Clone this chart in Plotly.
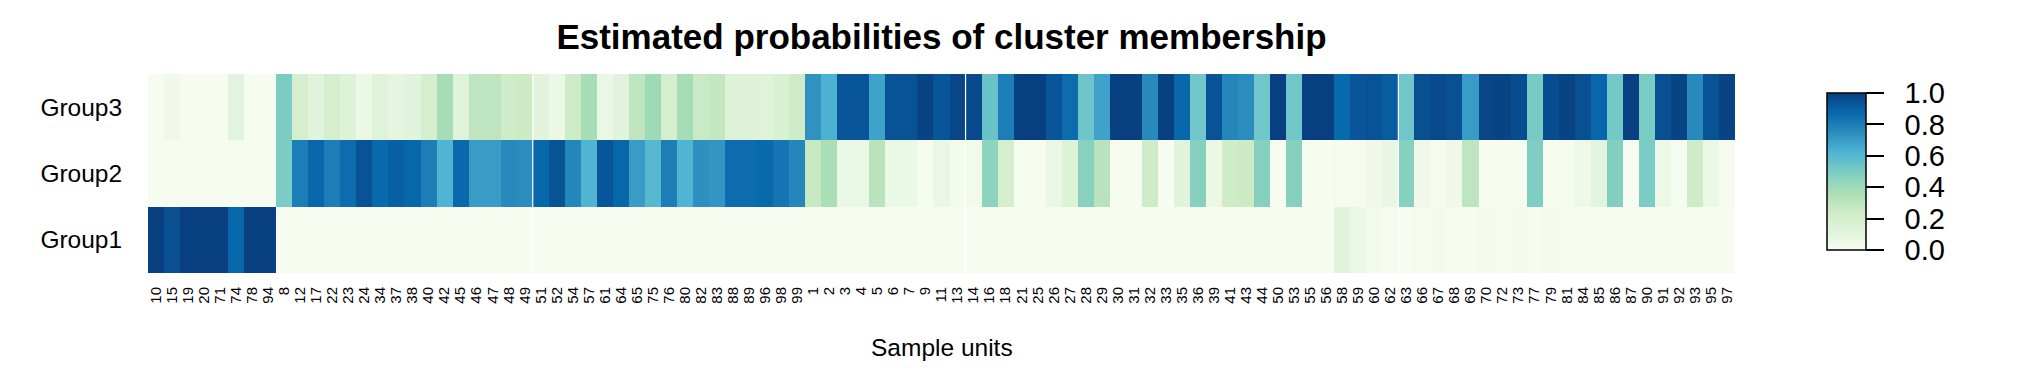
import plotly.graph_objects as go

# ---- data ----
samples = [
    "10", "15", "19", "20", "71", "74", "78", "94",
    "8", "12", "17", "22", "23", "24", "34", "37", "38", "40", "42", "45", "46", "47", "48", "49",
    "51", "52", "54", "57", "61", "64", "65", "75", "76", "80", "82", "83", "88", "89", "96", "98", "99",
    "1", "2", "3", "4", "5", "6", "7", "9", "11", "13", "14", "16", "18", "21", "25", "26", "27", "28",
    "29", "30", "31", "32", "33", "35", "36", "39", "41", "43", "44", "50", "53", "55", "56", "58", "59",
    "60", "62", "63", "66", "67", "68", "69", "70", "72", "73", "77", "79", "81", "84", "85", "86", "87",
    "90", "91", "92", "93", "95", "97",
]

group1 = [
    1.00, 0.95, 1.00, 1.00, 1.00, 0.88, 1.00, 1.00,
    0.00, 0.00, 0.00, 0.00, 0.00, 0.00, 0.00, 0.00, 0.00, 0.00, 0.00, 0.00, 0.00, 0.00, 0.00, 0.00,
    0.00, 0.00, 0.00, 0.00, 0.00, 0.00, 0.00, 0.00, 0.00, 0.00, 0.00, 0.00, 0.00, 0.00, 0.00, 0.00, 0.00,
    0.00, 0.00, 0.00, 0.00, 0.00, 0.00, 0.00, 0.00, 0.00, 0.00, 0.00, 0.00, 0.00, 0.00, 0.00, 0.00, 0.00, 0.00,
    0.00, 0.00, 0.00, 0.00, 0.00, 0.00, 0.00, 0.00, 0.00, 0.00, 0.00, 0.00, 0.00, 0.00, 0.00, 0.12, 0.06,
    0.02, 0.01, 0.00, 0.01, 0.02, 0.01, 0.00, 0.02, 0.01, 0.03, 0.00, 0.03, 0.00, 0.00, 0.00, 0.00, 0.00,
    0.00, 0.00, 0.00, 0.00, 0.00, 0.00,
]

group2 = [
    0.00, 0.01, 0.00, 0.00, 0.00, 0.01, 0.00, 0.00,
    0.50, 0.80, 0.88, 0.80, 0.86, 0.94, 0.87, 0.90, 0.88, 0.80, 0.62, 0.87, 0.70, 0.70, 0.76, 0.75,
    0.88, 0.94, 0.77, 0.62, 0.93, 0.88, 0.70, 0.60, 0.80, 0.62, 0.74, 0.72, 0.86, 0.86, 0.87, 0.83, 0.77,
    0.27, 0.37, 0.07, 0.07, 0.32, 0.06, 0.06, 0.01, 0.07, 0.02, 0.03, 0.45, 0.20, 0.00, 0.00, 0.07, 0.14, 0.46,
    0.32, 0.00, 0.00, 0.24, 0.00, 0.12, 0.47, 0.06, 0.23, 0.25, 0.47, 0.00, 0.47, 0.00, 0.00, 0.01, 0.01,
    0.04, 0.08, 0.47, 0.04, 0.01, 0.04, 0.30, 0.00, 0.00, 0.01, 0.49, 0.01, 0.01, 0.05, 0.11, 0.48, 0.00,
    0.50, 0.05, 0.01, 0.24, 0.06, 0.01,
]

group3 = [
    0.00, 0.04, 0.00, 0.00, 0.00, 0.11, 0.00, 0.00,
    0.50, 0.20, 0.12, 0.20, 0.14, 0.06, 0.13, 0.10, 0.12, 0.20, 0.38, 0.13, 0.30, 0.30, 0.24, 0.25,
    0.12, 0.06, 0.23, 0.38, 0.07, 0.12, 0.30, 0.40, 0.20, 0.38, 0.26, 0.28, 0.14, 0.14, 0.13, 0.17, 0.23,
    0.73, 0.63, 0.93, 0.93, 0.68, 0.94, 0.94, 0.99, 0.93, 0.98, 0.97, 0.55, 0.80, 1.00, 1.00, 0.93, 0.86, 0.54,
    0.68, 1.00, 1.00, 0.76, 1.00, 0.88, 0.53, 0.94, 0.77, 0.75, 0.53, 1.00, 0.53, 1.00, 1.00, 0.87, 0.93,
    0.94, 0.91, 0.53, 0.95, 0.97, 0.95, 0.70, 0.98, 0.99, 0.96, 0.51, 0.96, 0.99, 0.95, 0.88, 0.52, 1.00,
    0.50, 0.95, 0.99, 0.76, 0.94, 0.99,
]

groups = ["Group1", "Group2", "Group3"]
colorbar_ticks = [0.0, 0.2, 0.4, 0.6, 0.8, 1.0]
gnbu = ["#F7FCF0", "#E0F3DB", "#CCEBC5", "#A8DDB5", "#7BCCC4",
        "#4EB3D3", "#2B8CBE", "#0868AC", "#084081"]
# thin white seams visible in the reference image, after these samples
seams_after = ["49", "13", "62"]

# ---- figure ----
# the page body adds an 8px offset; the layout is sized to compensate
W, H = 2009, 369
colorscale = [[i / (len(gnbu) - 1), c] for i, c in enumerate(gnbu)]

fig = go.Figure()
fig.add_trace(go.Heatmap(
    z=[group1, group2, group3],
    x=samples,
    y=groups,
    zmin=0, zmax=1,
    colorscale=colorscale,
    hovertemplate="Sample %{x}<br>%{y}: %{z:.2f}<extra></extra>",
    colorbar=dict(
        thickness=39,
        len=157, lenmode="pixels",
        x=1.058, xanchor="left", xpad=0,
        y=0.51, yanchor="middle", ypad=0,
        outlinewidth=1.5, outlinecolor="black",
        ticks="outside", ticklen=18, tickwidth=2, tickcolor="black",
        tickvals=colorbar_ticks,
        ticktext=["\u2002%.1f" % v for v in colorbar_ticks],
        tickfont=dict(family="Liberation Sans, Arial, sans-serif", size=29, color="black"),
    ),
))

for s in seams_after:
    i = samples.index(s)
    fig.add_shape(type="line", xref="x", yref="paper",
                  x0=i + 0.5, x1=i + 0.5, y0=0, y1=1,
                  line=dict(color="white", width=1.2), layer="above")

fig.update_layout(
    width=W, height=H,
    margin=dict(l=140, r=282, t=66, b=104),
    paper_bgcolor="white", plot_bgcolor="white",
    font=dict(family="Liberation Sans, Arial, sans-serif", color="black"),
    title=dict(
        text="<b>Estimated probabilities of cluster membership</b>",
        x=(140 + 1727) / 2 / W, xanchor="center",
        y=1 - 29 / H, yanchor="middle", yref="container",
        font=dict(size=35, color="black"),
    ),
    xaxis=dict(
        type="category", categoryorder="array", categoryarray=samples,
        tickmode="linear", tick0=0, dtick=1,
        tickangle=-90, tickfont=dict(size=15, color="black"),
        ticks="outside", ticklen=7, tickcolor="rgba(0,0,0,0)",
        showgrid=False, zeroline=False, showline=False,
        automargin=False,
    ),
    yaxis=dict(
        type="category", categoryorder="array", categoryarray=groups,
        tickfont=dict(size=24.5, color="black"),
        ticks="outside", ticklen=20, tickcolor="rgba(0,0,0,0)",
        showgrid=False, zeroline=False, showline=False,
        automargin=False,
    ),
    annotations=[dict(
        text="Sample units", xref="paper", yref="paper",
        x=0.5, y=-(347 - 273) / 199, xanchor="center", yanchor="middle",
        showarrow=False, font=dict(size=24.5, color="black"),
    )],
)

fig.write_html("out.html")
